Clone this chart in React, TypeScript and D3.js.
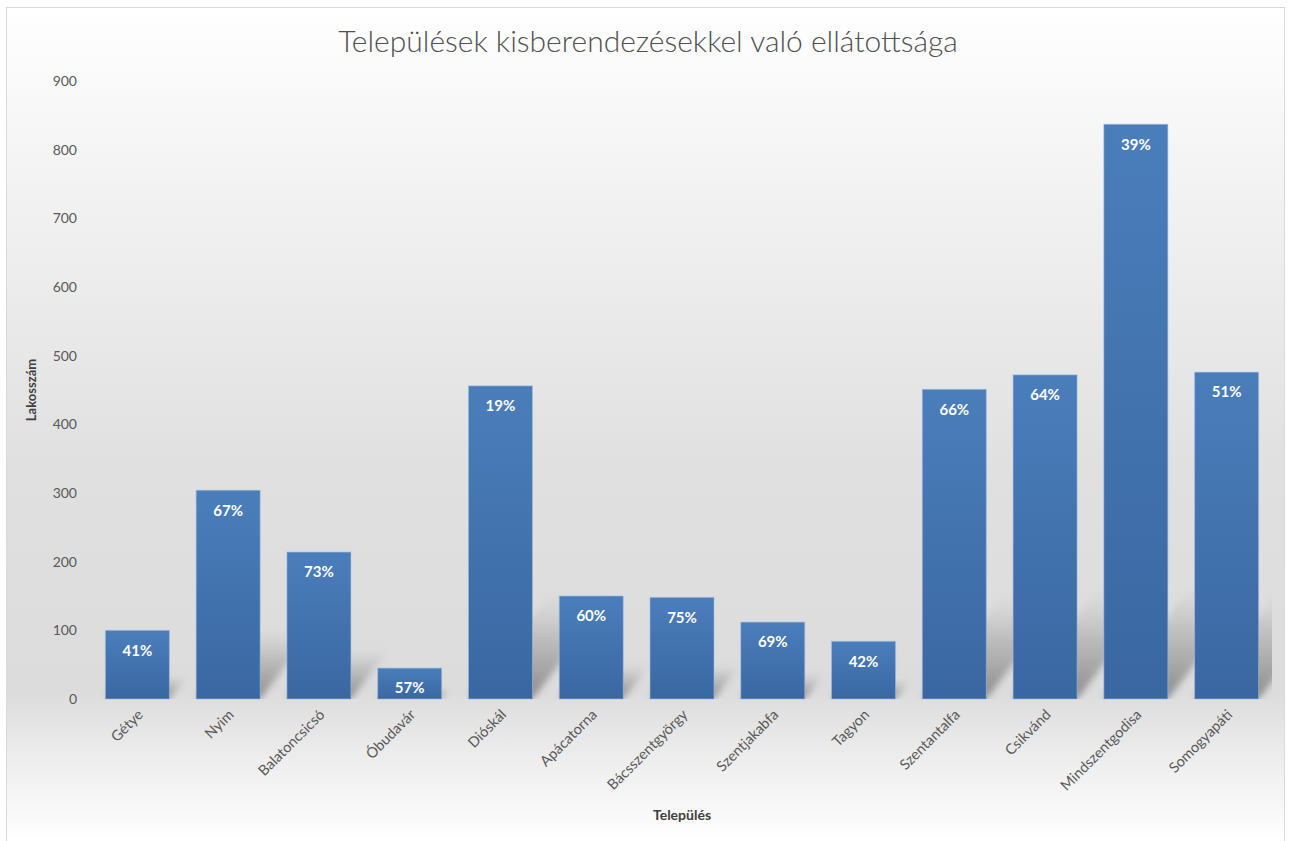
import React from "react";
import * as d3 from "d3";

const categories = ["Gétye", "Nyim", "Balatoncsicsó", "Óbudavár", "Dióskál", "Apácatorna", "Bácsszentgyörgy", "Szentjakabfa", "Tagyon", "Szentantalfa", "Csikvánd", "Mindszentgodisa", "Somogyapáti"];
const population = [100, 304, 214, 45, 456, 150, 148, 112, 84, 451, 472, 837, 476];
const coverage = ["41%", "67%", "73%", "57%", "19%", "60%", "75%", "69%", "42%", "66%", "64%", "39%", "51%"];
const yTicks = [0, 100, 200, 300, 400, 500, 600, 700, 800, 900];
const title = "Települések kisberendezésekkel való ellátottsága";
const yTitle = "Lakosszám";
const xTitle = "Település";

const W = 1290, H = 841;
const plot = { left: 92, right: 1272, top: 81, bottom: 699 };

export default function App() {
  const x = d3.scaleBand<string>().domain(categories).range([plot.left, plot.right]).paddingInner(0.295).paddingOuter(0.1475);
  const y = d3.scaleLinear().domain([0, 900]).range([plot.bottom, plot.top]);
  const bw = x.bandwidth();
  const font = "Lato, 'Open Sans', sans-serif";
  const textCol = "#595959";

  return (
    <div style={{ position: "absolute", left: 0, top: 0 }}>
      <svg width={W} height={H} style={{ display: "block" }}>
        <defs>
          <linearGradient id="bg" gradientUnits="userSpaceOnUse" x1="0" y1="7" x2="0" y2="841">
            <stop offset="0" stopColor="#ffffff" />
            <stop offset="0.17" stopColor="#f5f5f5" />
            <stop offset="0.55" stopColor="#e0e0e0" />
            <stop offset="0.82" stopColor="#dcdcdc" />
            <stop offset="0.9" stopColor="#ededed" />
            <stop offset="1" stopColor="#ffffff" />
          </linearGradient>
          <linearGradient id="bar" x1="0" y1="0" x2="0" y2="1">
            <stop offset="0" stopColor="#4a7ebb" />
            <stop offset="1" stopColor="#3a67a2" />
          </linearGradient>
          <linearGradient id="shadow" x1="0" y1="1" x2="0" y2="0">
            <stop offset="0" stopColor="#6f6f6f" stopOpacity="0.75" />
            <stop offset="0.55" stopColor="#8a8a8a" stopOpacity="0.4" />
            <stop offset="1" stopColor="#aaaaaa" stopOpacity="0" />
          </linearGradient>
          <filter id="blur" x="-50%" y="-50%" width="200%" height="200%">
            <feGaussianBlur stdDeviation="3.5" />
          </filter>
          <clipPath id="plotClip">
            <rect x={plot.left} y={plot.top - 20} width={plot.right - plot.left} height={plot.bottom - plot.top + 20} />
          </clipPath>
        </defs>
        <rect x={6.5} y={7.5} width={1278} height={840} fill="url(#bg)" stroke="#d9d9d9" strokeWidth={1} />

        <text x={648} y={52} textAnchor="middle" fontFamily={font} fontWeight={300} fontSize={30} fill="#505050">{title}</text>

        {yTicks.map((t) => (
          <text key={t} x={77} y={y(t)} dy="0.35em" textAnchor="end" fontFamily={font} fontSize={14} fill={textCol}>{t}</text>
        ))}

        <text transform={`translate(36,${(plot.top + plot.bottom) / 2}) rotate(-90)`} textAnchor="middle" fontFamily={font} fontWeight={700} fontSize={13} fill="#404040">{yTitle}</text>

        <g clipPath="url(#plotClip)">
          {categories.map((c, i) => {
            const x0 = x(c)!;
            const x1 = x0 + bw;
            const base = y(0);
            const h = base - y(population[i]);
            const sh = Math.min(h * 0.34, 115);
            const dx = sh / 1.3;
            const pts = [[x0, base], [x1, base], [x1 + dx, base - sh], [x0 + dx, base - sh]].map((p) => p.join(",")).join(" ");
            return <polygon key={c} points={pts} fill="url(#shadow)" filter="url(#blur)" />;
          })}
        </g>

        {categories.map((c, i) => (
          <rect key={c} x={x(c)!} y={y(population[i])} width={bw} height={y(0) - y(population[i])} fill="url(#bar)" stroke="#9fbbe0" strokeOpacity={0.6} strokeWidth={1} />
        ))}

        {categories.map((c, i) => (
          <text key={c} x={x(c)! + bw / 2} y={y(population[i]) + 20} dy="0.35em" textAnchor="middle" fontFamily={font} fontWeight={700} fontSize={15} fill="#ffffff">{coverage[i]}</text>
        ))}

        {categories.map((c) => (
          <text key={c} transform={`translate(${x(c)! + bw / 2 + 3},${plot.bottom + 13}) rotate(-45)`} dy="0.35em" textAnchor="end" fontFamily={font} fontSize={14.5} fill={textCol}>{c}</text>
        ))}

        <text x={(plot.left + plot.right) / 2} y={820} textAnchor="middle" fontFamily={font} fontWeight={700} fontSize={14} fill="#404040">{xTitle}</text>
      </svg>
    </div>
  );
}
